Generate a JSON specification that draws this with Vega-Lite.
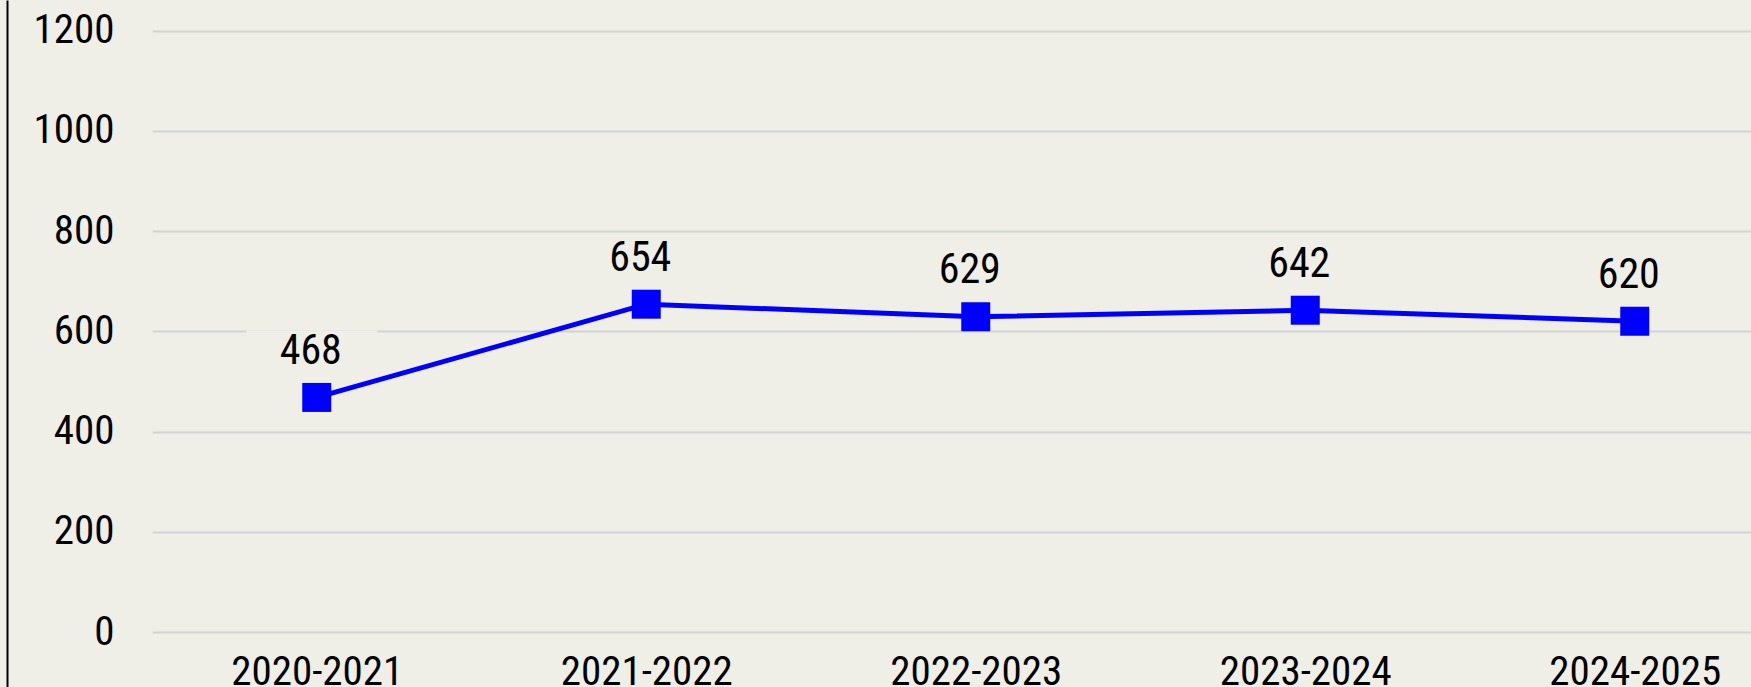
{
  "$schema": "https://vega.github.io/schema/vega-lite/v6.json",
  "width": 1599,
  "height": 687,
  "autosize": {"type": "none"},
  "padding": {"left": 152, "top": 0, "right": 0, "bottom": 0},
  "background": "#EFEEE7",
  "config": {
    "view": {"stroke": null},
    "font": "Roboto Condensed, DejaVu Sans Condensed, Liberation Sans, sans-serif",
    "axis": {"labelFont": "Roboto Condensed, DejaVu Sans Condensed, Liberation Sans, sans-serif", "labelFontSize": 41, "labelFontWeight": "normal", "labelColor": "#000000"}
  },
  "data": {
    "values": [
      {"year": "2020-2021", "value": 468},
      {"year": "2021-2022", "value": 654},
      {"year": "2022-2023", "value": 629},
      {"year": "2023-2024", "value": 642},
      {"year": "2024-2025", "value": 620}
    ]
  },
  "encoding": {
    "x": {
      "field": "year",
      "type": "nominal",
      "sort": null,
      "scale": {"type": "point", "padding": 0.4264, "align": 0.5863},
      "axis": {
        "title": null,
        "labelAngle": 0,
        "domain": false,
        "ticks": false,
        "tickSize": 0,
        "grid": false,
        "offset": -55,
        "labelPadding": 20
      }
    },
    "y": {
      "field": "value",
      "type": "quantitative",
      "scale": {"domain": [-109.7, 1260.9], "nice": false, "zero": false},
      "axis": {
        "title": null,
        "values": [0, 200, 400, 600, 800, 1000, 1200],
        "format": "d",
        "grid": true,
        "gridColor": "#D3D3D6",
        "gridWidth": 2,
        "domain": true,
        "domainColor": "#000000",
        "domainWidth": 2,
        "ticks": false,
        "tickSize": 0,
        "offset": 145,
        "labelPadding": -107,
        "labelAlign": "right",
        "labelBaseline": "middle",
        "labelDy": 6
      }
    }
  },
  "layer": [
    {
      "mark": {
        "type": "point",
        "shape": "M-1,-0.275H1V0.275H-1Z",
        "filled": true,
        "color": "#EFEEE7",
        "opacity": 1,
        "size": 17161,
        "yOffset": -49,
        "xOffset": -5
      }
    },
    {
      "mark": {"type": "line", "color": "#0000FF", "strokeWidth": 5}
    },
    {
      "mark": {"type": "point", "shape": "square", "filled": true, "color": "#0000FF", "opacity": 1, "size": 841}
    },
    {
      "mark": {
        "type": "text",
        "fontSize": 42,
        "color": "#000000",
        "baseline": "alphabetic",
        "dy": -33.5,
        "dx": -6
      },
      "encoding": {"text": {"field": "value", "type": "quantitative"}}
    }
  ]
}
